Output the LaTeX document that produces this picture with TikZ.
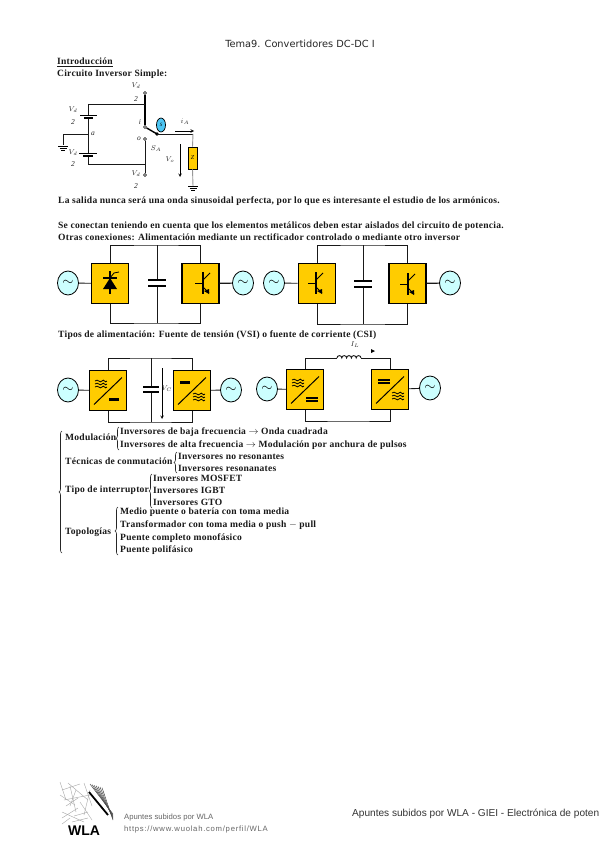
\documentclass[tikz,border=0pt]{standalone}
\usepackage{fontspec}
\setmainfont{Liberation Serif}
\newfontfamily\titlefont{DejaVu Sans}
\newfontfamily\footfont{Liberation Sans}
\newfontfamily\urlfont[LetterSpace=9.5]{Liberation Sans}
\newfontfamily\bodyfont[LetterSpace=2.5]{Liberation Serif Bold}
\usetikzlibrary{shapes.geometric, arrows.meta, positioning, calc, decorations.pathreplacing}
\definecolor{convfill}{HTML}{FFCC00}
\definecolor{srcfill}{HTML}{CCFFFF}
\tikzset{
  txt/.style={anchor=west, inner sep=0pt, text height=6pt, text depth=2pt, font=\bodyfont\fontsize{9.55}{10}\selectfont, text=black!90},
  lab/.style={inner sep=0pt, font=\fontsize{7.5}{8}\selectfont\itshape, text=black!85},
  wire/.style={line width=0.9pt, black!90},
  conv/.style={draw, line width=1.4pt, fill=convfill, minimum width=37pt, minimum height=40pt, inner sep=0pt},
  source/.style={draw, line width=0.8pt, ellipse, fill=srcfill, minimum width=21pt, minimum height=24pt, inner sep=0pt, font=\Large},
  term/.style={draw, circle, fill=white, line width=0.7pt, minimum size=3pt, inner sep=0pt},
  brc/.style={decorate, decoration={brace, amplitude=3pt}, line width=0.6pt, black!85},
  pics/igbt/.style={code={
    \draw[line width=1.1pt] (0,-11) -- (0,11);
    \draw[line width=0.9pt] (-8,0) -- (0,0);
    \draw[line width=0.8pt] (0,-3) -- (7,-10);
    \draw[line width=0.8pt] (0,4) -- (6,10);
    \fill (1,8) -- (6,6) -- (6,11) -- cycle;
  }},
  pics/rectif/.style={code={
    \draw[line width=1.1pt] (0,-13) -- (0,10);
    \draw[line width=1.1pt] (-7,-6) -- (7,-6);
    \fill (-7,5) -- (7,5) -- (0,-6) -- cycle;
    \draw[line width=0.8pt] (0,-6) -- (4,-11) -- (9,-12);
  }},
  pics/capac/.style={code={
    \draw[line width=1.2pt] (-9,0) -- (9,0);
    \draw[line width=1.2pt] (-9,6) -- (9,6);
  }},
  pics/ripple/.style={code={
    \foreach \k in {-3,0,3}
      \draw[line width=0.8pt] (-6,\k) .. controls (-3,\k-3) and (-1,\k+3) .. (1,\k) .. controls (3,\k-3) and (4,\k+3) .. (6,\k);
  }},
  pics/diag/.style={code={
    \draw[line width=1pt] (-14,14) -- (14,-13);
  }}
}
\begin{document}
\begin{tikzpicture}[x=1pt, y=-1pt, >=stealth]
    \useasboundingbox (0,0) rectangle (599,848);
    \fill[white] (0,0) rectangle (599,848);

    % Heading and the first lines of text
    \node[inner sep=0pt, font=\titlefont\fontsize{9.8}{10}\selectfont, text=black!85] (title) at (300,44) {Tema9. Convertidores DC-DC I};
    \node[txt] (intro) at (57,63) {\underline{Introducción}};
    \node[txt] (simple) at (57,75) {Circuito Inversor Simple:};
    \node[txt] (line1) at (58,201) {La salida nunca será una onda sinusoidal perfecta, por lo que es interesante el estudio de los armónicos.};
    \node[txt] (line2) at (58,226) {Se conectan teniendo en cuenta que los elementos metálicos deben estar aislados del circuito de potencia.};
    \node[txt] (line3) at (58,238) {Otras conexiones: Alimentación mediante un rectificador controlado o mediante otro inversor};
    \node[txt] (line4) at (58,335) {Tipos de alimentación: Fuente de tensión (VSI) o fuente de corriente (CSI)};

    % Simple inverter circuit
    \node[term] (up) at (145,93) {};
    \node[term] (sw) at (145,127) {};
    \node[term] (so) at (145,139) {};
    \node[term] (dn) at (145,175) {};
    \coordinate (pole) at (157,134);
    \coordinate (out) at (193,134);
    \coordinate (tl) at (88,104);
    \coordinate (tr) at (145,104);
    \coordinate (bl) at (88,164);
    \coordinate (br) at (145,164);
    \coordinate (mid) at (88,134);
    \coordinate (gl) at (63,134);
    \coordinate (gnd) at (63,145);
    \coordinate (gndr) at (193,186);
    \node[draw, line width=0.8pt, fill=convfill, minimum width=9pt, minimum height=22pt, inner sep=0pt, font=\fontsize{6}{6}\selectfont\itshape] (load) at (192.5,158) {Z};
    \node[draw, line width=0.7pt, ellipse, fill=cyan!70, minimum width=9pt, minimum height=14pt, inner sep=0pt, font=\fontsize{5}{5}\selectfont\itshape] (gate) at (161,125) {S};
    \draw[line width=1.4pt] (up) -- (sw);
    \draw[line width=1.4pt] (sw) -- (pole);
    \fill (pole) circle (1.8pt);
    \draw[wire] (so) -- (dn);
    \draw[wire] (pole) -- (out);
    \draw[wire, black!40] (out) -- (load.north);
    \draw[wire, black!40] (load.south) -- (gndr);
    \draw[wire] (tl) -- (tr);
    \draw[wire] (bl) -- (br);
    \draw[wire] (tl) -- (bl);
    \draw[wire] (mid) -- (gl) -- (gnd);
    % Batteries
    \draw[fill=white, draw=white] (80,116) rectangle (96,118);
    \draw[fill=white, draw=white] (80,154) rectangle (96,156);
    \draw[line width=0.9pt] (80,115) -- (97,115);
    \draw[line width=1.6pt] (84,118) -- (93,118);
    \draw[line width=0.9pt] (79,153) -- (97,153);
    \draw[line width=1.6pt] (83,156) -- (93,156);
    % Ground symbols
    \foreach \gx/\gy in {63/146, 193/186} {
      \draw[line width=0.7pt] (\gx-5,\gy) -- (\gx+5,\gy);
      \draw[line width=0.7pt] (\gx-3.5,\gy+2) -- (\gx+3.5,\gy+2);
      \draw[line width=0.7pt] (\gx-2,\gy+4) -- (\gx+2,\gy+4);
    }
    % Arrows for the output current and voltage
    \coordinate (iA) at (175,131);
    \coordinate (iB) at (194,131);
    \coordinate (vA) at (180,144);
    \coordinate (vB) at (180,177);
    \draw[->, line width=0.6pt] (iA) -- (iB);
    \draw[->, line width=0.6pt] (vA) -- (vB);
    % Labels of the circuit
    \node[lab] (vd1) at (136,86) {$V_d$};
    \node[lab] (two1) at (136,99) {2};
    \node[lab] (vd2) at (73,110) {$V_d$};
    \node[lab] (two2) at (73,122) {2};
    \node[lab] (vd3) at (73,153) {$V_d$};
    \node[lab] (two3) at (73,164) {2};
    \node[lab] (vd4) at (136,174) {$V_d$};
    \node[lab] (two4) at (136,186) {2};
    \node[lab] (la) at (93,134) {a};
    \node[lab] (li) at (140,122) {i};
    \node[lab] (lo) at (139,139) {o};
    \node[lab] (ls) at (156,149) {$S_A$};
    \node[lab] (lv) at (170,160) {$V_o$};
    \node[lab] (lc) at (185,122) {$i_A$};

    % First row: rectifier with inverter
    \node[source] (src1) at (68,283) {$\sim$};
    \node[conv] (conv1) at (110,283.5) {};
    \node[conv] (conv2) at (200.5,283.5) {};
    \node[source] (src2) at (243,283) {$\sim$};
    \pic at (110,284) {rectif};
    \pic at (203,283) {igbt};
    \coordinate (top1) at (157,245);
    \coordinate (bot1) at (157,323);
    \coordinate (capa1) at (157,279);
    \coordinate (capb1) at (157,286);
    \draw[wire] (src1) -- (conv1);
    \draw[wire, line width=1.2pt] (conv2) -- (src2);
    \draw[wire] (conv1.north) |- (top1) -| (conv2.north);
    \draw[wire] (conv1.south) |- (bot1) -| (conv2.south);
    \draw[wire] (top1) -- (capa1);
    \draw[wire] (bot1) -- (capb1);
    \pic at (157,280) {capac};

    % First row, second pair: two inverters
    \node[source] (src3) at (274,283) {$\sim$};
    \node[conv, line width=1.8pt] (conv3) at (317,283.5) {};
    \node[conv] (conv4) at (407.5,283.5) {};
    \node[source] (src4) at (450,283) {$\sim$};
    \pic at (316,283) {igbt};
    \pic at (408,284) {igbt};
    \coordinate (top2) at (363,245);
    \coordinate (bot2) at (363,324);
    \coordinate (capa2) at (363,281);
    \coordinate (capb2) at (363,286);
    \draw[wire] (src3) -- (conv3);
    \draw[wire, line width=1.2pt] (conv4) -- (src4);
    \draw[wire] (conv3.north) |- (top2) -| (conv4.north);
    \draw[wire] (conv3.south) |- (bot2) -| (conv4.south);
    \draw[wire] (top2) -- (capa2);
    \draw[wire] (bot2) -- (capb2);
    \pic at (363,281) {capac};

    % Second row: voltage source inverter
    \node[source] (src5) at (68,390) {$\sim$};
    \node[conv] (conv5) at (108,390.5) {};
    \node[conv] (conv6) at (192,390.5) {};
    \node[source] (src6) at (231,390) {$\sim$};
    \pic at (108,390.5) {diag};
    \pic at (192,390.5) {diag};
    \pic at (101,384) {ripple};
    \pic at (199,397) {ripple};
    \fill (109,397.5) rectangle (119,400.5);
    \fill (180,380.5) rectangle (190,383.5);
    \coordinate (top3) at (151,358);
    \coordinate (bot3) at (151,422);
    \coordinate (capa3) at (151,387);
    \coordinate (capb3) at (151,392);
    \draw[wire] (src5) -- (conv5);
    \draw[wire] (conv6) -- (src6);
    \draw[wire] (conv5.north) |- (top3) -| (conv6.north);
    \draw[wire] (conv5.south) |- (bot3) -| (conv6.south);
    \draw[wire] (top3) -- (capa3);
    \draw[wire] (bot3) -- (capb3);
    \draw[line width=1.2pt] (143,387) -- (159,387);
    \draw[line width=1.2pt] (143,392) -- (159,392);
    \coordinate (vcA) at (162,368);
    \coordinate (vcB) at (162,419);
    \draw[->, line width=0.6pt] (vcA) -- (vcB);
    \node[lab] (lvc) at (167,389) {$V_C$};

    % Second row: current source inverter
    \node[source] (src7) at (267,389) {$\sim$};
    \node[conv] (conv7) at (305,389.5) {};
    \node[conv] (conv8) at (390,389.5) {};
    \node[source] (src8) at (430,388) {$\sim$};
    \pic at (305,389.5) {diag};
    \pic at (390,389.5) {diag};
    \pic at (298,383) {ripple};
    \pic at (398,396) {ripple};
    \foreach \by in {397,400}
      \fill (306,\by) rectangle (318,\by+1.6);
    \foreach \by in {379,382}
      \fill (378,\by) rectangle (390,\by+1.6);
    \coordinate (indA) at (337,358);
    \coordinate (indB) at (361,358);
    \coordinate (bot4) at (349,421);
    \draw[wire] (src7) -- (conv7);
    \draw[wire] (conv8) -- (src8);
    \draw[wire] (conv7.north) |- (indA);
    \draw[wire] (indB) -| (conv8.north);
    \draw[wire] (conv7.south) |- (bot4) -| (conv8.south);
    % Inductor
    \draw[wire] (indA) \foreach \t in {0,1,2,3,4} { arc[start angle=180, end angle=0, radius=2.4pt] };
    \node[lab] (lil) at (355,345) {$I_L$};
    \fill (371,349) -- (375,351) -- (371,353) -- cycle;

    % Classification with braces
    \node[txt] (mod) at (65,438) {Modulación};
    \node[txt] (modA) at (120,432) {Inversores de baja frecuencia $\rightarrow$ Onda cuadrada};
    \node[txt] (modB) at (120,445) {Inversores de alta frecuencia $\rightarrow$ Modulación por anchura de pulsos};
    \node[txt] (tec) at (65,462) {Técnicas de conmutación};
    \node[txt] (tecA) at (178,457) {Inversores no resonantes};
    \node[txt] (tecB) at (178,469) {Inversores resonanates};
    \node[txt] (tip) at (65,490) {Tipo de interruptor};
    \node[txt] (tipA) at (153,479) {Inversores MOSFET};
    \node[txt] (tipB) at (153,491) {Inversores IGBT};
    \node[txt] (tipC) at (153,503) {Inversores GTO};
    \node[txt] (top) at (65,532) {Topologías};
    \node[txt] (topA) at (120,512) {Medio puente o batería con toma media};
    \node[txt] (topB) at (120,525) {Transformador con toma media o push $-$ pull};
    \node[txt] (topC) at (120,538) {Puente completo monofásico};
    \node[txt] (topD) at (120,550) {Puente polifásico};
    \draw[brc] (62,553) -- (62,431);
    \draw[brc] (119,450) -- (119,427);
    \draw[brc] (177,473) -- (177,452);
    \draw[brc] (152,508) -- (152,474);
    \draw[brc] (118,555) -- (118,507);

    % Footer with the logo
    \foreach \ax/\ay/\bx/\by in {62/790/80/784, 64/800/90/795, 70/786/76/812, 84/783/92/806, 62/812/84/822, 66/806/78/798, 90/790/84/815, 62/824/70/818, 74/816/88/812, 60/795/75/805, 68/783/88/800, 76/790/70/806, 62/818/78/808, 80/802/92/820, 60/782/66/800, 72/822/88/818} {
      \draw[gray!70, line width=0.4pt] (\ax,\ay) -- (\bx,\by);
    }
    \foreach \sh in {0,2,4,6,8,10,12} {
      \draw[black!70, line width=0.5pt] (90+\sh,784+\sh*0.3) -- (113,814+\sh*0.5);
    }
    \draw[black, line width=1.8pt] (89,792) -- (108,815);
    \node[inner sep=0pt, font=\footfont\bfseries\fontsize{14}{14}\selectfont] (logo) at (84,831) {WLA};
    \node[anchor=west, inner sep=0pt, font=\footfont\fontsize{7.7}{9}\selectfont, text=black!60] (footA) at (124,817) {Apuntes subidos por WLA};
    \node[anchor=west, inner sep=0pt, font=\urlfont\fontsize{7.7}{9}\selectfont, text=black!60] (footB) at (124,829) {https://www.wuolah.com/perfil/WLA};
    \node[anchor=west, inner sep=0pt, font=\footfont\fontsize{10.1}{11}\selectfont, text=black!80] (footC) at (352,814) {Apuntes subidos por WLA - GIEI - Electrónica de poten};
\end{tikzpicture}
\end{document}
